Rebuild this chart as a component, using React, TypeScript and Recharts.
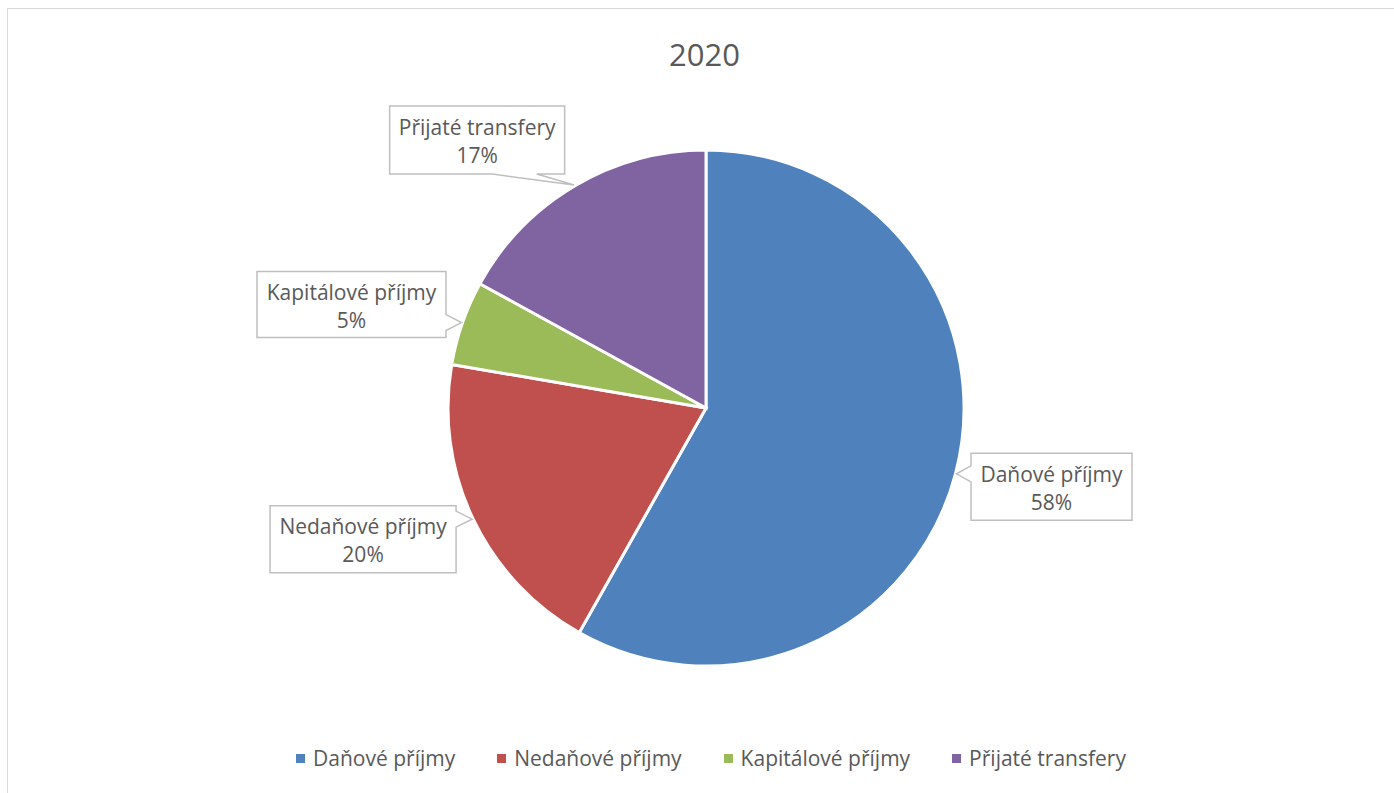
import { PieChart, Pie, Cell, Legend } from 'recharts'

const title = '2020'
const categories = ['Daňové příjmy', 'Nedaňové příjmy', 'Kapitálové příjmy', 'Přijaté transfery']
const values = [58.18, 19.52, 5.3, 17.0]
const colors = ['#4F81BD', '#C0504D', '#9BBB59', '#8064A2']

const data = categories.map((name, i) => ({ name, value: values[i] }))

const FONT = '"Open Sans", sans-serif'
const TEXT = '#595959'

// where each callout box sits relative to the slice's edge point (like Excel "best fit")
const callouts = [
  { dx: 95, dy: 13, w: 161, h: 67 },
  { dx: -109, dy: 20, w: 186, h: 67 },
  { dx: -110, dy: -18, w: 189, h: 66 },
  { dx: -97, dy: -45, w: 175, h: 68 },
]

const RAD = Math.PI / 180
const clamp = (v: number, a: number, b: number) => Math.max(a, Math.min(b, v))

function calloutPath(x0: number, y0: number, x1: number, y1: number, tx: number, ty: number) {
  let side = 'top'
  if (tx < x0) side = 'left'
  else if (tx > x1 && ty >= y0 && ty <= y1) side = 'right'
  else if (ty > y1) side = 'bottom'
  const hs = 8
  const hb = 22
  const by = clamp(ty, y0 + hs + 2, y1 - hs - 2)
  const bx = clamp(tx, x0 + 30, x1 - 50)
  const p: string[] = [`M${x0},${y0}`]
  if (side === 'top') p.push(`L${bx - hb},${y0}`, `L${tx},${ty}`, `L${bx + hb},${y0}`)
  p.push(`L${x1},${y0}`)
  if (side === 'right') p.push(`L${x1},${by - hs}`, `L${tx},${ty}`, `L${x1},${by + hs}`)
  p.push(`L${x1},${y1}`)
  if (side === 'bottom') p.push(`L${bx + hb},${y1}`, `L${tx},${ty}`, `L${bx - hb},${y1}`)
  p.push(`L${x0},${y1}`)
  if (side === 'left') p.push(`L${x0},${by + hs}`, `L${tx},${ty}`, `L${x0},${by - hs}`)
  p.push('Z')
  return p.join(' ')
}

const CalloutLabel = (props: any) => {
  const { cx, cy, midAngle, outerRadius, percent, name, index } = props
  const c = callouts[index]
  const tx = cx + (outerRadius + 1) * Math.cos(-midAngle * RAD)
  const ty = cy + (outerRadius + 1) * Math.sin(-midAngle * RAD)
  const mx = tx + c.dx
  const my = ty + c.dy
  const x0 = mx - c.w / 2
  const y0 = my - c.h / 2
  return (
    <g>
      <path d={calloutPath(x0, y0, x0 + c.w, y0 + c.h, tx, ty)} fill="#fff" stroke="#bfbfbf" strokeWidth={1.5} />
      <text x={mx} y={my - 5} textAnchor="middle" fill={TEXT} fontSize={21} fontFamily={FONT}>{name}</text>
      <text x={mx} y={my + 23} textAnchor="middle" fill={TEXT} fontSize={21} fontFamily={FONT}>
        {Math.round(percent * 100)}%
      </text>
    </g>
  )
}

const LegendContent = () => (
  <div style={{ display: 'flex', justifyContent: 'center', gap: 42, fontFamily: FONT, fontSize: 21, color: TEXT, paddingLeft: 28 }}>
    {categories.map((c, i) => (
      <div key={c} style={{ display: 'flex', alignItems: 'center' }}>
        <span style={{ width: 9, height: 9, background: colors[i], marginRight: 8, display: 'inline-block' }} />
        <span>{c}</span>
      </div>
    ))}
  </div>
)

export default function App() {
  return (
    <div style={{ position: 'fixed', left: 0, top: 0, width: 1394, height: 793, overflow: 'hidden', background: '#fff' }}>
      <div style={{ position: 'absolute', left: 7, top: 8, width: 1420, height: 820, border: '1.5px solid #d9d9d9', boxSizing: 'border-box' }} />
      <div style={{ position: 'absolute', left: 0, top: 39, width: 1409, textAlign: 'center', fontFamily: FONT, fontSize: 31, lineHeight: '31px', color: TEXT }}>
        {title}
      </div>
      <div style={{ position: 'absolute', left: 0, top: 0 }}>
        <PieChart width={1394} height={793} margin={{ top: 0, right: 0, bottom: 0, left: 0 }}>
          <Pie
            data={data}
            dataKey="value"
            nameKey="name"
            cx={706}
            cy={408}
            outerRadius={258}
            startAngle={90}
            endAngle={-270}
            stroke="#fff"
            strokeWidth={3}
            labelLine={false}
            label={CalloutLabel}
            isAnimationActive={false}
          >
            {data.map((d, i) => (
              <Cell key={d.name} fill={colors[i]} />
            ))}
          </Pie>
          <Legend content={<LegendContent />} wrapperStyle={{ position: 'absolute', top: 744, left: 0, width: 1394 }} />
        </PieChart>
      </div>
    </div>
  )
}
